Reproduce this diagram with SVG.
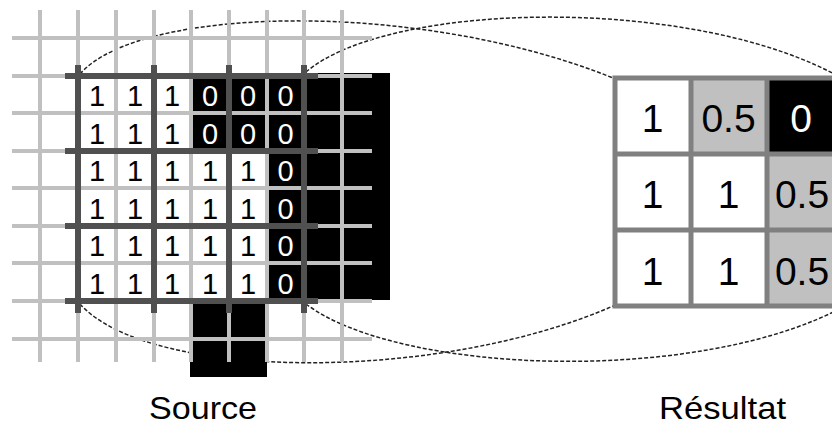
<svg xmlns="http://www.w3.org/2000/svg" width="832" height="427" viewBox="0 0 832 427">
<style>
.lg{stroke:#c0c0c0;stroke-width:4;fill:none}
.dg{stroke:#505050;stroke-width:6;fill:none}
.blk{fill:#000}
.d{font-family:"Liberation Sans",Arial,sans-serif;font-size:29px;text-anchor:middle;fill:#000}
.w{fill:#fff}
.r{font-family:"Liberation Sans",Arial,sans-serif;font-size:39px;text-anchor:middle;fill:#000}
.lab{font-family:"Liberation Sans",Arial,sans-serif;font-size:32px;text-anchor:middle;fill:#000}
.tg{stroke:#808080;stroke-width:5;fill:none}
.con{stroke:#222;stroke-width:1.5;fill:none;stroke-dasharray:4 2}
</style>
<rect width="832" height="427" fill="#fff"/>
<g id="connectors">
<path class="con" d="M80,74 C140,5 420,0 613,78"/>
<path class="con" d="M306,72 C390,0 700,-5 845,80"/>
<path class="con" d="M80,304 C150,382 440,382 613,306"/>
<path class="con" d="M306,304 C400,375 700,385 845,306"/>
</g>
<g id="source">
<rect class="blk" x="191" y="76" width="113" height="75"/>
<rect class="blk" x="267" y="151" width="37" height="150"/>
<rect class="blk" x="304" y="73" width="86" height="227"/>
<rect class="blk" x="192" y="301" width="74" height="40"/>
<rect class="blk" x="190" y="340" width="77" height="37"/>
<path class="lg" d="M40,10V362M78,10V362M116,10V362M154,10V362M191,10V362M229,10V362M267,10V362M304,10V362M342,10V362"/>
<path class="lg" d="M12,38H372M12,76H372M12,113H372M12,151H372M12,188H372M12,226H372M12,263H372M12,301H372M12,339H372"/>
<path class="dg" d="M78,65V313M154,65V313M229,65V313M304,65V313"/>
<path class="dg" d="M65,76H318M65,151H318M65,226H318M65,301H318"/>
<g class="d">
<text x="97" y="106">1</text><text x="135" y="106">1</text><text x="172" y="106">1</text><text class="w" x="210" y="106">0</text><text class="w" x="248" y="106">0</text><text class="w" x="285.5" y="106">0</text>
<text x="97" y="143.5">1</text><text x="135" y="143.5">1</text><text x="172" y="143.5">1</text><text class="w" x="210" y="143.5">0</text><text class="w" x="248" y="143.5">0</text><text class="w" x="285.5" y="143.5">0</text>
<text x="97" y="181">1</text><text x="135" y="181">1</text><text x="172" y="181">1</text><text x="210" y="181">1</text><text x="248" y="181">1</text><text class="w" x="285.5" y="181">0</text>
<text x="97" y="218.5">1</text><text x="135" y="218.5">1</text><text x="172" y="218.5">1</text><text x="210" y="218.5">1</text><text x="248" y="218.5">1</text><text class="w" x="285.5" y="218.5">0</text>
<text x="97" y="256">1</text><text x="135" y="256">1</text><text x="172" y="256">1</text><text x="210" y="256">1</text><text x="248" y="256">1</text><text class="w" x="285.5" y="256">0</text>
<text x="97" y="293.5">1</text><text x="135" y="293.5">1</text><text x="172" y="293.5">1</text><text x="210" y="293.5">1</text><text x="248" y="293.5">1</text><text class="w" x="285.5" y="293.5">0</text>
</g>
</g>
<g id="resultat">
<rect x="615" y="78" width="228" height="228" fill="#fff"/>
<rect x="691" y="78" width="76" height="76" fill="#c0c0c0"/>
<rect x="767" y="78" width="76" height="76" fill="#000"/>
<rect x="767" y="154" width="76" height="152" fill="#c0c0c0"/>
<path class="tg" d="M615,75.5V308.5M691,78V306M767,78V306M843,78V306M612.5,78H843M615,154H843M615,230H843M612.5,306H843"/>
<g class="r">
<text x="652.5" y="132">1</text><text x="728.5" y="132">0.5</text><text class="w" x="801" y="132">0</text>
<text x="652.5" y="208">1</text><text x="728.5" y="208">1</text><text x="802" y="208">0.5</text>
<text x="652.5" y="285">1</text><text x="728.5" y="285">1</text><text x="802" y="285">0.5</text>
</g>
</g>
<g id="labels">
<text class="lab" x="203" y="419" textLength="108" lengthAdjust="spacingAndGlyphs">Source</text>
<text class="lab" x="722.5" y="419" textLength="127" lengthAdjust="spacingAndGlyphs">Résultat</text>
</g>
</svg>
